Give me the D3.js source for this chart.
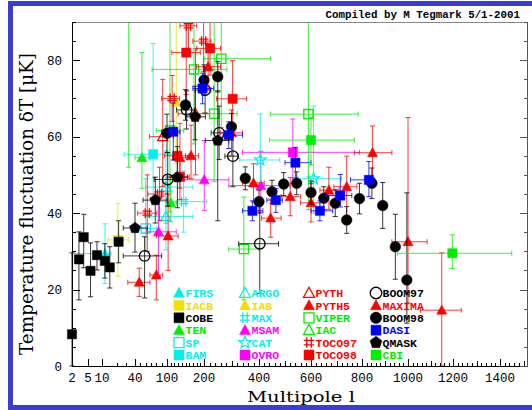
<!DOCTYPE html>
<html><head><meta charset="utf-8">
<script src="https://cdn.jsdelivr.net/npm/d3@7"></script>
<style>body{margin:0;background:#fff}svg{display:block}</style>
</head><body><svg id="c" width="532" height="410"></svg>
<script>
// Tick labels
const xTickLabels = [2, 5, 10, 40, 100, 200, 400, 600, 800, 1000, 1200, 1400];
const yTickLabels = [0, 20, 40, 60, 80];

// Band powers, one row per band: [l, dT, minus, plus, lLow, lHigh]  (dT in microkelvin)
const FIRS   = [[12, 29.4, 7.8, 7.8, 2, 16]];
const IACB   = [[21, 33, 9.5, 9.5, 14, 33]];
const COBE   = [[2, 8.3, 8.3, 21.3], [3.3, 27.9, 10.6, 7.2], [4.2, 33.7, 8, 6], [5.9, 24.9, 6.8, 7.3],
                [8.2, 29.0, 3.9, 3.5], [11.9, 27.5, 4.5, 4.5], [15.2, 25.8, 5.4, 5.4], [21.8, 32.5, 5.5, 5.5]];
const TEN    = [[53, 54.5, 8, 27.5, 40, 68], [110, 42.7, 5, 7, 98, 125]];
const SP     = [[60, 36, 6, 13, 40, 80]];
const BAM    = [[74, 55.4, 12, 29, 28, 115]];
const ARGO   = [[98, 39.1, 8.7, 8.7, 60, 170], [98, 46.8, 9.5, 9.5, 60, 170]];
const IAB    = [[125, 69, 16, 31]];
const MAX    = [[145, 43, 8, 8, 80, 210]];
const MSAM   = [[84, 35.1, 11.7, 9, 62, 125], [201, 48.7, 8, 10.3, 130, 290], [407, 47.2, 7, 9, 290, 520]];
const CAT    = [[405, 53.9, 6, 12, 330, 480], [610, 49, 9, 19, 550, 720]];
const OVRO   = [[530, 55.9, 8, 8.7, 340, 790]];
const PYTH   = [[92, 60, 13, 15, 67, 117], [177, 66, 16, 17, 130, 220]];
const PYTH5  = [[48, 21.9, 3.7, 3.7, 32, 68], [80, 23.8, 6.5, 5.2, 68, 92], [103, 34, 9, 11, 80, 130],
                [135, 54.5, 8, 9, 115, 155], [165, 55, 6, 8, 150, 185]];
const VIPER  = [[108, 61.6, 21.3, 31.1, 80, 145], [173, 77.6, 19.5, 26.8, 72, 283], [237, 66, 17.8, 24.4, 180, 320],
                [263, 80.4, 18, 18, 200, 445], [345, 30.6, 13.3, 13.6, 290, 400], [590, 65.9, 25, 30, 445, 785]];
const IAC    = [[33, 111, 59, 40, 25, 45]];
const TOCO97 = [[63, 40, 10, 10, 45, 81], [86, 45, 7, 7, 64, 102], [114, 70, 6, 6, 90, 134],
                [158, 89, 7, 7, 135, 180], [199, 85, 8, 8, 170, 225]];
const TOCO98 = [[128, 55, 6, 6, 95, 160], [135, 49.5, 6, 6, 110, 160], [152, 82, 11, 11, 113, 190],
                [222, 83.1, 7, 7, 180, 260], [304, 69.9, 8.5, 10, 245, 355]];
const BOOM97 = [[58, 28.8, 11, 5, 27, 90], [102, 48.8, 7, 7, 76, 125], [153, 67, 5, 5, 126, 175],
                [204, 72.2, 6, 6, 176, 225], [255, 61, 7, 7, 226, 275], [305, 54.9, 8, 8, 276, 325],
                [403, 32, 13, 10, 326, 475]];
const MAXIMA = [[215, 78.3, 6, 6, 180, 260], [300, 61, 6, 6, 260, 340], [380, 47.9, 5, 5, 340, 420],
                [445, 38.7, 5, 5, 410, 485], [520, 44.3, 5, 5, 485, 560], [600, 42.7, 5, 5, 560, 635],
                [670, 46, 5, 6, 635, 710], [740, 46.9, 7.5, 8, 690, 780], [846, 55.8, 7, 7, 770, 930],
                [1000, 32.5, 16, 32.5, 930, 1085], [1150, 14.6, 14.6, 15, 1055, 1235]];
const BOOM98 = [[100, 60.9, 5, 5], [150, 68.3, 4, 4], [200, 74.8, 4, 4], [250, 75.7, 4, 4], [300, 62.6, 3.5, 3.5],
                [350, 49.1, 3, 3], [400, 43, 3, 3], [450, 45.6, 3, 3], [495, 47.6, 3, 3], [545, 47.8, 3, 3],
                [600, 45.4, 3, 3], [650, 43.9, 3, 3], [695, 42.6, 3.5, 3.5], [740, 38.2, 3.5, 3.5],
                [790, 43.8, 4, 4], [843, 47.8, 4, 4], [890, 42, 6, 6], [945, 31.2, 8.5, 8.5], [995, 22.5, 11.3, 22.8]];
const DASI   = [[117, 61.3, 7.4, 7.5, 90, 135], [196, 72.6, 4, 4, 170, 235], [290, 60.4, 3.5, 3.5, 270, 340],
                [376, 40.6, 2.6, 2.6, 340, 415], [465, 43.4, 3.2, 3, 430, 490], [540, 53.2, 4, 4, 500, 600],
                [635, 40.6, 2.6, 2.6, 600, 685], [715, 44.6, 3, 5.5, 660, 760], [830, 48.7, 4.4, 4.8, 755, 855]];
const QMASK  = [[40, 36.1, 6.3, 6.5, 27, 63], [78, 43.4, 6, 6, 55, 100], [128, 49.4, 8, 8, 100, 155],
                [176, 65.2, 6, 8, 150, 205], [250, 59, 21, 13, 205, 290]];
const CBI    = [[600, 59.1, 6.5, 6, 440, 770], [1197, 29.5, 4, 4.8, 955, 1450]];

const CYAN = '#00f0f0', YEL = '#f0e000', GRN = '#00ee00', MAG = '#ff00ff', RED = '#ff0000', BLU = '#0000ff', BLK = '#000000';

// legend columns, top to bottom; drawing order follows the same sequence
const experiments = [
  {name: 'FIRS', data: FIRS, sym: 'tri', fill: true, color: CYAN},
  {name: 'IACB', data: IACB, sym: 'sq', fill: true, color: YEL},
  {name: 'COBE', data: COBE, sym: 'sq', fill: true, color: BLK},
  {name: 'TEN', data: TEN, sym: 'tri', fill: true, color: GRN},
  {name: 'SP', data: SP, sym: 'sq', fill: false, color: CYAN},
  {name: 'BAM', data: BAM, sym: 'sq', fill: true, color: CYAN},
  {name: 'ARGO', data: ARGO, sym: 'tri', fill: false, color: CYAN},
  {name: 'IAB', data: IAB, sym: 'tri', fill: true, color: YEL},
  {name: 'MAX', data: MAX, sym: 'hash', fill: false, color: CYAN},
  {name: 'MSAM', data: MSAM, sym: 'tri', fill: true, color: MAG},
  {name: 'CAT', data: CAT, sym: 'star', fill: false, color: CYAN},
  {name: 'OVRO', data: OVRO, sym: 'sq', fill: true, color: MAG},
  {name: 'PYTH', data: PYTH, sym: 'tri', fill: false, color: RED},
  {name: 'PYTH5', data: PYTH5, sym: 'tri', fill: true, color: RED},
  {name: 'VIPER', data: VIPER, sym: 'sq', fill: false, color: GRN},
  {name: 'IAC', data: IAC, sym: 'tri', fill: false, color: GRN},
  {name: 'TOCO97', data: TOCO97, sym: 'hash', fill: false, color: RED},
  {name: 'TOCO98', data: TOCO98, sym: 'sq', fill: true, color: RED},
  {name: 'BOOM97', data: BOOM97, sym: 'circ', fill: false, color: BLK},
  {name: 'MAXIMA', data: MAXIMA, sym: 'tri', fill: true, color: RED},
  {name: 'BOOM98', data: BOOM98, sym: 'circ', fill: true, color: BLK},
  {name: 'DASI', data: DASI, sym: 'sq', fill: true, color: BLU},
  {name: 'QMASK', data: QMASK, sym: 'pent', fill: true, color: BLK},
  {name: 'CBI', data: CBI, sym: 'sq', fill: true, color: GRN}
];

const W = 532, H = 410;
const plot = {left: 72, right: 528, top: 22, bottom: 366};

// multipole axis: log-like at low l, nearly linear at high l
const x = d3.scaleLinear()
  .domain([2, 5, 10, 20, 40, 100, 200, 400, 600, 800, 1000, 1200, 1400])
  .range([72, 88, 102, 117, 135, 167, 204, 259, 311, 362, 408, 453, 500]);
const lMax = x.invert(plot.right);
const y = d3.scaleLinear().domain([0, 90]).range([plot.bottom, plot.top]);

const svg = d3.select('#c');
svg.append('rect').attr('width', W).attr('height', H).attr('fill', '#fff');

// outer blue frame
svg.append('rect').attr('x', 10.5).attr('y', 3.5).attr('width', 540).attr('height', 404)
  .attr('fill', 'none').attr('stroke', '#3d3dcc').attr('stroke-width', 5);

svg.append('text').attr('x', 520).attr('y', 18).attr('text-anchor', 'end')
  .attr('font-family', 'Liberation Mono, monospace').attr('font-weight', 'bold').attr('font-size', 10.8)
  .text('Compiled by M Tegmark 5/1-2001');

// symbol paths centred on the origin
function symPath(sym, r) {
  if (sym === 'sq') return `M${-r},${-r}h${2*r}v${2*r}h${-2*r}Z`;
  if (sym === 'tri') { const h = r * 1.15; return `M0,${-h}L${r*1.1},${h*0.75}L${-r*1.1},${h*0.75}Z`; }
  if (sym === 'circ') return d3.arc()({innerRadius: 0, outerRadius: r*1.15, startAngle: 0, endAngle: 2*Math.PI});
  if (sym === 'pent') {
    const R = r * 1.25;
    return d3.range(5).map((i, k) => { const a = -Math.PI/2 + i*2*Math.PI/5; return (k ? 'L' : 'M') + (R*Math.cos(a)).toFixed(2) + ',' + (R*Math.sin(a)).toFixed(2); }).join('') + 'Z';
  }
  if (sym === 'star') {
    const R = r * 1.3, ri = R * 0.42;
    return d3.range(10).map((i, k) => { const a = -Math.PI/2 + i*Math.PI/5, rr = i % 2 ? ri : R; return (k ? 'L' : 'M') + (rr*Math.cos(a)).toFixed(2) + ',' + (rr*Math.sin(a)).toFixed(2); }).join('') + 'Z';
  }
  if (sym === 'hash') {
    const a = r * 0.45, b = r * 1.05;
    return `M${-b},${-a}H${b}M${-b},${a}H${b}M${-a},${-b}V${b}M${a},${-b}V${b}`;
  }
}

function drawSym(g, e, cx, cy, r) {
  const p = g.append('path').attr('d', symPath(e.sym, r)).attr('transform', `translate(${cx},${cy})`);
  if (e.fill) p.attr('fill', e.color).attr('stroke', e.color).attr('stroke-width', 0.5);
  else p.attr('fill', 'none').attr('stroke', e.color).attr('stroke-width', 1.3);
}

// clip to the plotting frame (open on the left so the quadrupole stays whole)
svg.append('clipPath').attr('id', 'frame').append('rect')
  .attr('x', plot.left - 10).attr('y', plot.top).attr('width', plot.right - plot.left + 10).attr('height', plot.bottom - plot.top + 1);

const dataG = svg.append('g').attr('clip-path', 'url(#frame)');
const cap = 2.6;
experiments.forEach(e => {
  const g = dataG.append('g');
  const bars = g.append('g').attr('stroke', e.color).attr('stroke-width', 1).attr('stroke-opacity', 0.78).attr('fill', 'none');
  e.data.forEach(d => {
    const [l, v, lo, hi, l0, l1] = d;
    const cx = x(l), cy = y(v), y0 = y(v - lo), y1 = y(v + hi);
    bars.append('line').attr('x1', cx).attr('x2', cx).attr('y1', y0).attr('y2', y1);
    bars.append('line').attr('x1', cx - cap).attr('x2', cx + cap).attr('y1', y0).attr('y2', y0);
    bars.append('line').attr('x1', cx - cap).attr('x2', cx + cap).attr('y1', y1).attr('y2', y1);
    if (l0 !== undefined) {
      const xa = x(l0), xb = x(l1);
      bars.append('line').attr('x1', xa).attr('x2', xb).attr('y1', cy).attr('y2', cy);
      bars.append('line').attr('x1', xa).attr('x2', xa).attr('y1', cy - cap).attr('y2', cy + cap);
      bars.append('line').attr('x1', xb).attr('x2', xb).attr('y1', cy - cap).attr('y2', cy + cap);
    }
  });
  e.data.forEach(d => drawSym(g, e, x(d[0]), y(d[1]), 4.6));
});

// frame and ticks
const axG = svg.append('g').attr('stroke', '#000').attr('stroke-width', 1).attr('fill', 'none');
axG.append('line').attr('x1', plot.left).attr('x2', plot.right).attr('y1', plot.top + 0.5).attr('y2', plot.top + 0.5).attr('stroke', '#888');
axG.append('line').attr('x1', plot.right - 0.5).attr('x2', plot.right - 0.5).attr('y1', plot.top).attr('y2', plot.bottom).attr('stroke', '#555');
axG.append('line').attr('x1', plot.left + 0.5).attr('x2', plot.left + 0.5).attr('y1', plot.top).attr('y2', plot.bottom + 0.5);
axG.append('line').attr('x1', plot.left).attr('x2', plot.right).attr('y1', plot.bottom + 0.5).attr('y2', plot.bottom + 0.5);

d3.range(0, 91, 5).forEach(v => {
  const len = v % 20 === 0 ? 8 : 4, yy = Math.round(y(v)) + 0.5;
  axG.append('line').attr('x1', plot.left).attr('x2', plot.left + len).attr('y1', yy).attr('y2', yy);
  axG.append('line').attr('x1', plot.right).attr('x2', plot.right - len).attr('y1', yy).attr('y2', yy).attr('stroke', '#555');
});

const minorL = d3.range(20, 200, 10).concat(d3.range(200, lMax, 20));
minorL.forEach(l => {
  const len = xTickLabels.includes(l) ? 7 : (l % 100 === 0 ? 5 : 3), xx = Math.round(x(l)) + 0.5;
  axG.append('line').attr('x1', xx).attr('x2', xx).attr('y1', plot.bottom).attr('y2', plot.bottom - len);
});
[2, 5, 10].forEach(l => {
  const xx = Math.round(x(l)) + 0.5;
  axG.append('line').attr('x1', xx).attr('x2', xx).attr('y1', plot.bottom).attr('y2', plot.bottom - 7);
});

const numFont = 'Liberation Mono, monospace';
svg.append('g').selectAll('text').data(xTickLabels).join('text')
  .attr('x', d => x(d)).attr('y', 382).attr('text-anchor', 'middle')
  .attr('font-family', numFont).attr('font-size', 12.5).text(d => d);
svg.append('g').selectAll('text').data(yTickLabels).join('text')
  .attr('x', 62).attr('y', d => y(d) + 4.5).attr('text-anchor', 'end')
  .attr('font-family', numFont).attr('font-size', 12.5).text(d => d);

svg.append('text').attr('x', 301).attr('y', 401.5).attr('text-anchor', 'middle')
  .attr('font-family', 'DejaVu Serif, serif').attr('font-size', 14.5)
  .attr('textLength', 108).attr('lengthAdjust', 'spacingAndGlyphs').text('Multipole l');
svg.append('text').attr('transform', 'translate(33,204) rotate(-90)').attr('text-anchor', 'middle')
  .attr('font-family', 'DejaVu Serif, serif').attr('font-size', 18)
  .attr('textLength', 302).attr('lengthAdjust', 'spacingAndGlyphs')
  .text('Temperature fluctuation δT [μK]');

// legend: four columns of six
const legG = svg.append('g');
const colX = [179, 245, 309, 376], rowY0 = 293, rowStep = 12.4;
experiments.forEach((e, i) => {
  const c = Math.floor(i / 6), r = i % 6;
  const cx = colX[c], cy = rowY0 + r * rowStep;
  drawSym(legG, e, cx, cy, 5);
  legG.append('text').attr('x', cx + 6.5).attr('y', cy + 4.2)
    .attr('font-family', 'Liberation Mono, monospace').attr('font-weight', 'bold').attr('font-size', 11.5)
    .attr('fill', e.color).text(e.name);
});
</script></body></html>
